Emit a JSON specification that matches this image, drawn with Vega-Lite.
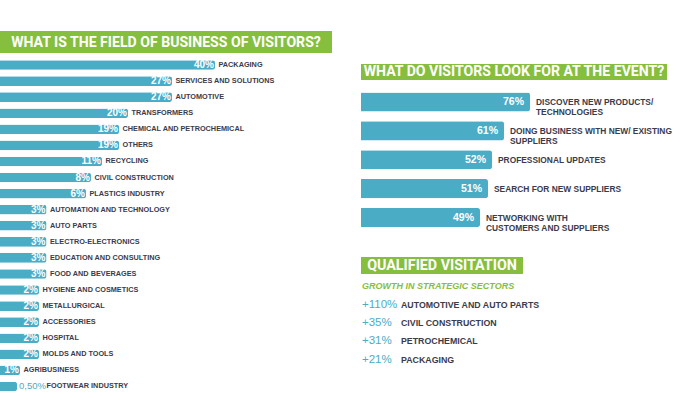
{
  "$schema": "https://vega.github.io/schema/vega-lite/v6.json",
  "padding": {"top": 31, "left": 0, "right": 0, "bottom": 0},
  "background": "white",
  "config": {"view": {"stroke": null}, "font": "Liberation Sans"},
  "spacing": 29,
  "hconcat": [
    {
      "spacing": 4,
      "bounds": "flush",
      "vconcat": [
        {
          "width": 332,
          "height": 22,
          "view": {"fill": "#86BE3E", "stroke": null},
          "data": {"values": [{"title": "WHAT IS THE FIELD OF BUSINESS OF VISITORS?"}]},
          "mark": {"type": "text", "color": "white", "font": "Roboto", "fontWeight": "bold", "fontSize": 14.1, "baseline": "middle", "align": "center", "dy": 1},
          "encoding": {"text": {"field": "title"}}
        },
        {
          "width": 332,
          "height": 337.5,
          "data": {"values": [
            {"sector": "PACKAGING", "pct": 40, "label": "40%"},
            {"sector": "SERVICES AND SOLUTIONS", "pct": 27, "label": "27%"},
            {"sector": "AUTOMOTIVE", "pct": 27, "label": "27%"},
            {"sector": "TRANSFORMERS", "pct": 20, "label": "20%"},
            {"sector": "CHEMICAL AND PETROCHEMICAL", "pct": 19, "label": "19%"},
            {"sector": "OTHERS", "pct": 19, "label": "19%"},
            {"sector": "RECYCLING", "pct": 11, "label": "11%"},
            {"sector": "CIVIL CONSTRUCTION", "pct": 8, "label": "8%"},
            {"sector": "PLASTICS INDUSTRY", "pct": 6, "label": "6%"},
            {"sector": "AUTOMATION AND TECHNOLOGY", "pct": 3, "label": "3%"},
            {"sector": "AUTO PARTS", "pct": 3, "label": "3%"},
            {"sector": "ELECTRO-ELECTRONICS", "pct": 3, "label": "3%"},
            {"sector": "EDUCATION AND CONSULTING", "pct": 3, "label": "3%"},
            {"sector": "FOOD AND BEVERAGES", "pct": 3, "label": "3%"},
            {"sector": "HYGIENE AND COSMETICS", "pct": 2, "label": "2%"},
            {"sector": "METALLURGICAL", "pct": 2, "label": "2%"},
            {"sector": "ACCESSORIES", "pct": 2, "label": "2%"},
            {"sector": "HOSPITAL", "pct": 2, "label": "2%"},
            {"sector": "MOLDS AND TOOLS", "pct": 2, "label": "2%"},
            {"sector": "AGRIBUSINESS", "pct": 1, "label": "1%"},
            {"sector": "FOOTWEAR INDUSTRY", "pct": 0.5, "label": "0,50%"}
          ]},
          "encoding": {
            "y": {"field": "sector", "type": "nominal", "sort": null, "axis": null,
                  "scale": {"type": "band", "paddingInner": 0.4, "paddingOuter": 0.2, "round": false}},
            "x": {"field": "pct", "type": "quantitative", "axis": null,
                  "scale": {"domain": [0, 0.5, 1, 2, 3, 6, 8, 11, 19, 20, 27, 40],
                            "range": [0, 17, 20, 39, 46.5, 86, 91, 102, 119, 128, 172, 215]}}
          },
          "layer": [
            {"mark": {"type": "bar", "color": "#4BACC6", "cornerRadiusEnd": 2.5}},
            {
              "transform": [{"filter": "datum.pct >= 1"}],
              "mark": {"type": "text", "align": "right", "baseline": "middle", "dx": -1, "color": "white", "fontWeight": "bold", "fontSize": 10},
              "encoding": {"text": {"field": "label"}}
            },
            {
              "transform": [{"filter": "datum.pct < 1"}],
              "mark": {"type": "text", "align": "left", "baseline": "middle", "dx": 2, "color": "#4BACC6", "fontSize": 9.5},
              "encoding": {"text": {"field": "label"}}
            },
            {
              "transform": [{"filter": "datum.pct >= 1"}],
              "mark": {"type": "text", "align": "left", "baseline": "middle", "dx": 3.5, "color": "#3B3B4B", "fontWeight": "bold", "fontSize": 7.3},
              "encoding": {"text": {"field": "sector"}}
            },
            {
              "transform": [{"filter": "datum.pct < 1"}],
              "mark": {"type": "text", "align": "left", "baseline": "middle", "dx": 29.5, "color": "#3B3B4B", "fontWeight": "bold", "fontSize": 7.3},
              "encoding": {"text": {"field": "sector"}}
            }
          ]
        }
      ]
    },
    {
      "spacing": 4,
      "bounds": "flush",
      "vconcat": [
        {
          "width": 306,
          "height": 29,
          "data": {"values": [{"t": ""}]},
          "mark": {"type": "text"},
          "encoding": {"text": {"field": "t"}}
        },
        {
          "width": 306,
          "height": 16,
          "view": {"fill": "#86BE3E", "stroke": null},
          "data": {"values": [{"title": "WHAT DO VISITORS LOOK FOR AT THE EVENT?"}]},
          "mark": {"type": "text", "color": "white", "font": "Roboto", "fontWeight": "bold", "fontSize": 14.1, "baseline": "middle", "align": "center"},
          "encoding": {"text": {"field": "title"}}
        },
        {
          "width": 306,
          "height": 168.5,
          "data": {"values": [
            {"goal": "DISCOVER NEW PRODUCTS/\nTECHNOLOGIES", "pct": 76, "label": "76%"},
            {"goal": "DOING BUSINESS WITH NEW/ EXISTING\nSUPPLIERS", "pct": 61, "label": "61%"},
            {"goal": "PROFESSIONAL UPDATES", "pct": 52, "label": "52%"},
            {"goal": "SEARCH FOR NEW SUPPLIERS", "pct": 51, "label": "51%"},
            {"goal": "NETWORKING WITH\nCUSTOMERS AND SUPPLIERS", "pct": 49, "label": "49%"}
          ]},
          "encoding": {
            "y": {"field": "goal", "type": "nominal", "sort": null, "axis": null,
                  "scale": {"type": "band", "paddingInner": 0.34, "paddingOuter": 0.5877, "align": 0.25, "round": false}},
            "x": {"field": "pct", "type": "quantitative", "axis": null,
                  "scale": {"domain": [0, 49, 51, 52, 61, 76], "range": [0, 119, 127, 131, 143, 169]}}
          },
          "layer": [
            {"mark": {"type": "bar", "color": "#4BACC6", "cornerRadiusEnd": 2.5}},
            {
              "mark": {"type": "text", "align": "right", "baseline": "middle", "dx": -6, "color": "white", "fontWeight": "bold", "fontSize": 10.5},
              "encoding": {"text": {"field": "label"}}
            },
            {
              "mark": {"type": "text", "align": "left", "baseline": "middle", "dx": 6, "color": "#3B3B4B", "fontWeight": "bold", "fontSize": 8.4, "lineBreak": "\n", "lineHeight": 10},
              "encoding": {"text": {"field": "goal"}}
            }
          ]
        },
        {
          "width": 162,
          "height": 17,
          "view": {"fill": "#86BE3E", "stroke": null},
          "data": {"values": [{"title": "QUALIFIED VISITATION"}]},
          "mark": {"type": "text", "color": "white", "font": "Roboto", "fontWeight": "bold", "fontSize": 14.3, "baseline": "middle", "align": "center"},
          "encoding": {"text": {"field": "title"}}
        },
        {
          "width": 306,
          "height": 22.8,
          "data": {"values": [{"subtitle": "GROWTH IN STRATEGIC SECTORS"}]},
          "mark": {"type": "text", "align": "left", "baseline": "middle", "dy": -3, "color": "#86BE3E", "fontWeight": "bold", "fontStyle": "italic", "fontSize": 9},
          "encoding": {"x": {"value": 1}, "text": {"field": "subtitle"}}
        },
        {
          "width": 306,
          "height": 54.6,
          "data": {"values": [
            {"growth": "+110%", "sector": "AUTOMOTIVE AND AUTO PARTS"},
            {"growth": "+35%", "sector": "CIVIL CONSTRUCTION"},
            {"growth": "+31%", "sector": "PETROCHEMICAL"},
            {"growth": "+21%", "sector": "PACKAGING"}
          ]},
          "encoding": {
            "y": {"field": "sector", "type": "nominal", "sort": null, "axis": null, "scale": {"type": "point", "padding": 0}}
          },
          "layer": [
            {
              "mark": {"type": "text", "align": "left", "baseline": "middle", "color": "#4BACC6", "fontSize": 11.5, "fontWeight": 500},
              "encoding": {"x": {"value": 1}, "text": {"field": "growth"}}
            },
            {
              "mark": {"type": "text", "align": "left", "baseline": "middle", "color": "#3B3B4B", "fontWeight": "bold", "fontSize": 8.8},
              "encoding": {"x": {"value": 40}, "text": {"field": "sector"}}
            }
          ]
        }
      ]
    }
  ]
}
